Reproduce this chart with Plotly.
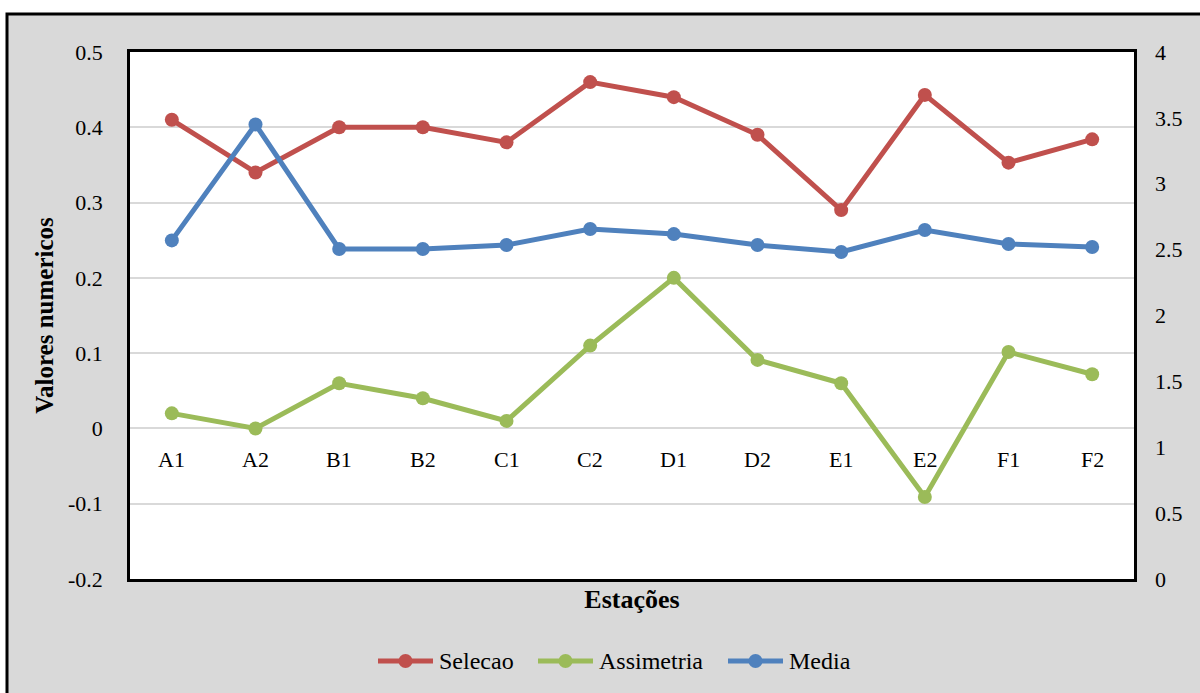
import plotly.graph_objects as go

estacoes = ["A1", "A2", "B1", "B2", "C1", "C2", "D1", "D2", "E1", "E2", "F1", "F2"]
selecao = [0.41, 0.34, 0.40, 0.40, 0.38, 0.46, 0.44, 0.39, 0.29, 0.443, 0.353, 0.384]
assimetria = [0.02, 0.0, 0.06, 0.04, 0.01, 0.11, 0.20, 0.091, 0.06, -0.091, 0.1015, 0.072]
media = [2.57, 3.45, 2.505, 2.505, 2.535, 2.657, 2.618, 2.535, 2.482, 2.649, 2.543, 2.52]

left_ticks = [-0.2, -0.1, 0, 0.1, 0.2, 0.3, 0.4, 0.5]
right_ticks = [0, 0.5, 1, 1.5, 2, 2.5, 3, 3.5, 4]

RED, GREEN, BLUE = "#c0504d", "#9bbb59", "#4f81bd"
FONT = "Liberation Serif, Times New Roman, serif"

W, H = 1200, 693
ML, MR, MT, MB = 130, 66, 52, 114
pw, ph = W - ML - MR, H - MT - MB


def px_x(x):
    return (x - ML) / pw


def px_y(y):
    return (H - MB - y) / ph


series = [
    ("Selecao", selecao, RED, "y"),
    ("Assimetria", assimetria, GREEN, "y"),
    ("Media", media, BLUE, "y2"),
]

fig = go.Figure()
for name, vals, col, axis in series:
    fig.add_trace(go.Scatter(
        x=estacoes, y=vals, name=name, yaxis=axis, mode="lines+markers",
        line=dict(color=col, width=5), marker=dict(color=col, size=14),
        showlegend=False,
    ))

# category labels sit just under the zero line
for cat in estacoes:
    fig.add_annotation(x=cat, y=0, xref="x", yref="y", text=cat, showarrow=False,
                       yanchor="middle", yshift=-31, font=dict(family=FONT, size=22, color="#000"))

# white margin outside the gray chart panel, and the panel's black frame
fig.add_shape(type="rect", xref="paper", yref="paper", layer="above",
              x0=px_x(-20), x1=px_x(W + 20), y0=px_y(14), y1=px_y(-20),
              fillcolor="white", line=dict(width=0))
fig.add_shape(type="rect", xref="paper", yref="paper", layer="above",
              x0=px_x(-20), x1=px_x(7), y0=px_y(H + 20), y1=px_y(-20),
              fillcolor="white", line=dict(width=0))
fig.add_shape(type="rect", xref="paper", yref="paper", layer="above",
              x0=px_x(7), x1=px_x(W + 20), y0=px_y(H + 20), y1=px_y(14),
              fillcolor="rgba(0,0,0,0)", line=dict(color="#000", width=3))

# legend row: line-with-marker key followed by the series name
legend_y = 661
legend_x0 = [378, 538, 728]
for (name, _, col, _), x0 in zip(series, legend_x0):
    fig.add_shape(type="line", xref="paper", yref="paper", layer="above",
                  x0=px_x(x0), x1=px_x(x0 + 55), y0=px_y(legend_y), y1=px_y(legend_y),
                  line=dict(color=col, width=5))
    fig.add_shape(type="circle", xref="paper", yref="paper", layer="above",
                  xsizemode="pixel", ysizemode="pixel",
                  xanchor=px_x(x0 + 27.5), yanchor=px_y(legend_y),
                  x0=-7, x1=7, y0=-7, y1=7, fillcolor=col, line=dict(width=0))
    fig.add_annotation(xref="paper", yref="paper", x=px_x(x0 + 59), y=px_y(legend_y),
                       xanchor="left", yanchor="middle", text=name, showarrow=False,
                       font=dict(family=FONT, size=24, color="#000"))

fig.update_layout(
    width=W, height=H, margin=dict(l=ML, r=MR, t=MT, b=MB),
    paper_bgcolor="#d9d9d9", plot_bgcolor="white",
    font=dict(family=FONT, size=22, color="#000"),
    showlegend=False,
    xaxis=dict(type="category", range=[-0.5, 11.5], showticklabels=False, ticks="",
               showgrid=False, showline=True, linecolor="#000", linewidth=2.5, mirror=True,
               zeroline=False,
               title=dict(text="<b>Estações</b>", font=dict(family=FONT, size=26), standoff=10)),
    yaxis=dict(range=[-0.2, 0.5], tickvals=left_ticks, ticktext=[f"{v:g}" for v in left_ticks],
               showgrid=True, gridcolor="#d9d9d9", gridwidth=1.5, zeroline=False,
               showline=True, linecolor="#000", linewidth=2.5, mirror=True, ticks="",
               ticklabelstandoff=20,
               title=dict(text="<b>Valores numericos</b>", font=dict(family=FONT, size=25), standoff=8)),
    yaxis2=dict(range=[0, 4], tickvals=right_ticks, ticktext=[f"{v:g}" for v in right_ticks],
                overlaying="y", side="right", showgrid=False, zeroline=False, showline=False,
                ticks="", ticklabelstandoff=20),
)

fig.write_html("out.html")
